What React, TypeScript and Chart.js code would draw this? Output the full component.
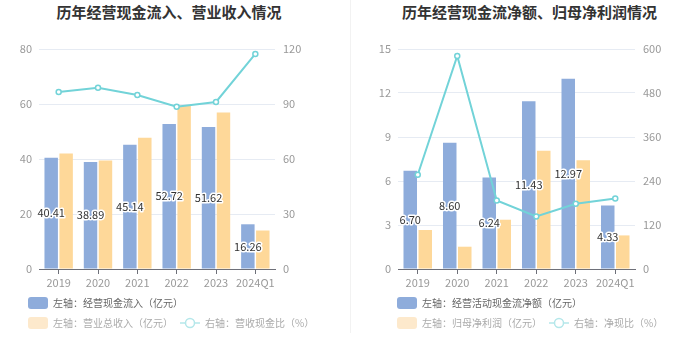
import React, { useEffect, useRef } from "react";
import { Chart, registerables } from "chart.js";

Chart.register(...registerables);

const FONT = '"Noto Sans CJK SC", "Noto Sans", sans-serif';

// ---------- Data ----------
const categories = ["2019", "2020", "2021", "2022", "2023", "2024Q1"];

// Left chart
const cashInflow = [40.41, 38.89, 45.14, 52.72, 51.62, 16.26];
const totalRevenue = [42.0, 39.5, 47.7, 59.5, 56.9, 14.0];
const cashRevenueRatio = [96.5, 98.9, 94.9, 88.5, 91.1, 117.3];
const leftTicksL = { min: 0, max: 80, step: 20 };
const leftTicksR = { min: 0, max: 120, step: 30 };

// Right chart
const netOperatingCash = [6.7, 8.6, 6.24, 11.43, 12.97, 4.33];
const netProfit = [2.66, 1.52, 3.36, 8.07, 7.41, 2.29];
const netCashRatio = [257, 581, 187, 143.5, 178, 192];
const rightTicksL = { min: 0, max: 15, step: 3 };
const rightTicksR = { min: 0, max: 600, step: 120 };

// ---------- Styles ----------
const BLUE = "#8eacdb";
const YELLOW = "#fed899";
const CYAN = "#72d3d8";
const GRID = "#e6ebf3";
const TICK = "#999999";

const barLabelPlugin = {
  id: "barLabels",
  afterDatasetsDraw(chart: any) {
    const meta = chart.getDatasetMeta(0);
    const ds = chart.data.datasets[0];
    const ctx = chart.ctx;
    ctx.save();
    ctx.font = `11px ${FONT}`;
    ctx.textAlign = "center";
    ctx.textBaseline = "middle";
    ctx.lineWidth = 3;
    ctx.lineJoin = "round";
    ctx.strokeStyle = "#ffffff";
    ctx.fillStyle = "#333333";
    meta.data.forEach((el: any, i: number) => {
      const v = ds.data[i] as number;
      const txt = v.toFixed(2);
      const y = (el.y + el.base) / 2;
      ctx.strokeText(txt, el.x, y);
      ctx.fillText(txt, el.x, y);
    });
    ctx.restore();
  },
};

type PanelProps = {
  bars1: number[];
  bars2: number[];
  line: number[];
  l: { min: number; max: number; step: number };
  r: { min: number; max: number; step: number };
  width: number;
  height: number;
  leftW: number;
  rightW: number;
  padTop: number;
  xH: number;
};

function ChartCanvas(p: PanelProps) {
  const ref = useRef<HTMLCanvasElement | null>(null);
  useEffect(() => {
    if (!ref.current) return;
    const chart = new Chart(ref.current, {
      type: "bar",
      data: {
        labels: categories,
        datasets: [
          {
            type: "bar",
            data: p.bars1,
            backgroundColor: BLUE,
            yAxisID: "y",
            order: 2,
            categoryPercentage: 0.76,
            barPercentage: 0.9,
          } as any,
          {
            type: "bar",
            data: p.bars2,
            backgroundColor: YELLOW,
            yAxisID: "y",
            order: 2,
            categoryPercentage: 0.76,
            barPercentage: 0.9,
          } as any,
          {
            type: "line",
            data: p.line,
            borderColor: CYAN,
            borderWidth: 2,
            pointRadius: 2.5,
            pointBorderWidth: 1.5,
            pointBackgroundColor: "#ffffff",
            pointBorderColor: CYAN,
            yAxisID: "y1",
            order: 0,
            tension: 0,
          } as any,
        ],
      },
      options: {
        responsive: false,
        maintainAspectRatio: false,
        animation: false,
        layout: { padding: { top: p.padTop, left: 0, right: 0, bottom: 0 } },
        plugins: {
          legend: { display: false },
          tooltip: { enabled: false },
          title: { display: false },
        },
        scales: {
          x: {
            grid: {
              offset: false,
              drawOnChartArea: false,
              drawTicks: true,
              tickLength: 5,
              color: "#6e7079",
            },
            border: { display: true, color: "#6e7079" },
            ticks: {
              color: TICK,
              font: { family: FONT, size: 11 },
              padding: 2,
              maxRotation: 0,
              autoSkip: false,
            },
            afterFit: (s: any) => {
              s.height = p.xH;
            },
          } as any,
          y: {
            position: "left",
            min: p.l.min,
            max: p.l.max,
            grid: { color: GRID, drawTicks: false },
            border: { display: false },
            ticks: { stepSize: p.l.step, color: TICK, font: { family: FONT, size: 11 }, padding: 7 },
            afterFit: (s: any) => {
              s.width = p.leftW;
            },
          } as any,
          y1: {
            position: "right",
            min: p.r.min,
            max: p.r.max,
            grid: { drawOnChartArea: false, drawTicks: false },
            border: { display: false },
            ticks: { stepSize: p.r.step, color: TICK, font: { family: FONT, size: 11 }, padding: 8 },
            afterFit: (s: any) => {
              s.width = p.rightW;
            },
          } as any,
        },
      },
      plugins: [barLabelPlugin],
    });
    return () => chart.destroy();
  }, []);
  return (
    <canvas
      ref={ref}
      width={p.width}
      height={p.height}
      style={{ width: p.width, height: p.height, display: "block" }}
    />
  );
}

function BoxIcon({ color }: { color: string }) {
  return (
    <span
      style={{
        display: "inline-block",
        width: 20,
        height: 12,
        borderRadius: 3,
        background: color,
        marginRight: 5,
        verticalAlign: "middle",
      }}
    />
  );
}

function LineIcon({ color }: { color: string }) {
  return (
    <svg width={20} height={12} style={{ verticalAlign: "middle", marginRight: 5 }}>
      <line x1={0} y1={6} x2={20} y2={6} stroke={color} strokeWidth={1.5} />
      <circle cx={10} cy={6} r={4.5} fill="#ffffff" stroke={color} strokeWidth={1.5} />
    </svg>
  );
}

type LegendProps = {
  x: number;
  lineX: number;
  t1: string;
  t2: string;
  t3: string;
};

function Legend({ x, lineX, t1, t2, t3 }: LegendProps) {
  const text: React.CSSProperties = {
    fontFamily: FONT,
    fontSize: 10,
    verticalAlign: "middle",
    whiteSpace: "nowrap",
  };
  const row: React.CSSProperties = {
    position: "absolute",
    height: 16,
    lineHeight: "16px",
    whiteSpace: "nowrap",
  };
  return (
    <>
      <div style={{ ...row, left: x, top: 294 }}>
        <BoxIcon color={BLUE} />
        <span style={{ ...text, color: "#666" }}>{t1}</span>
      </div>
      <div style={{ ...row, left: x, top: 314 }}>
        <BoxIcon color="#fde9cc" />
        <span style={{ ...text, color: "#aaa" }}>{t2}</span>
      </div>
      <div style={{ ...row, left: lineX, top: 314 }}>
        <LineIcon color="#b4e7ea" />
        <span style={{ ...text, color: "#aaa" }}>{t3}</span>
      </div>
    </>
  );
}

export default function App() {
  const titleStyle: React.CSSProperties = {
    position: "absolute",
    top: 2,
    height: 20,
    lineHeight: "20px",
    fontFamily: FONT,
    fontSize: 15,
    fontWeight: "bold",
    color: "#333",
    textAlign: "center",
    whiteSpace: "nowrap",
  };
  return (
    <div
      style={{
        position: "absolute",
        left: 0,
        top: 0,
        width: 699,
        height: 359,
        background: "#ffffff",
        overflow: "hidden",
      }}
    >
      <div style={{ ...titleStyle, left: 0, width: 338 }}>历年经营现金流入、营业收入情况</div>
      <div style={{ ...titleStyle, left: 350, width: 359 }}>历年经营现金流净额、归母净利润情况</div>

      <div style={{ position: "absolute", left: 0, top: 30 }}>
        <ChartCanvas
          bars1={cashInflow}
          bars2={totalRevenue}
          line={cashRevenueRatio}
          l={leftTicksL}
          r={leftTicksR}
          width={350}
          height={265}
          leftW={39}
          rightW={75}
          padTop={19}
          xH={26}
        />
      </div>
      <div style={{ position: "absolute", left: 350, top: 30 }}>
        <ChartCanvas
          bars1={netOperatingCash}
          bars2={netProfit}
          line={netCashRatio}
          l={rightTicksL}
          r={rightTicksR}
          width={349}
          height={265}
          leftW={48}
          rightW={64}
          padTop={19}
          xH={26}
        />
      </div>

      <div style={{ position: "absolute", left: 350, top: 0, width: 1, height: 333, background: "#f2f2f2" }} />

      <Legend
        x={28}
        lineX={180}
        t1="左轴：经营现金流入（亿元）"
        t2="左轴：营业总收入（亿元）"
        t3="右轴：营收现金比（%）"
      />
      <Legend
        x={397}
        lineX={549}
        t1="左轴：经营活动现金流净额（亿元）"
        t2="左轴：归母净利润（亿元）"
        t3="右轴：净现比（%）"
      />
    </div>
  );
}
